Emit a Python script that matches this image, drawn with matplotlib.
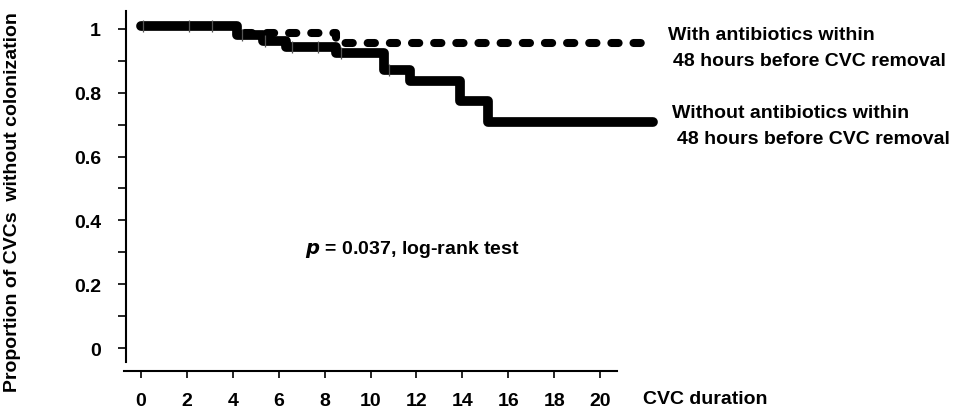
import matplotlib
matplotlib.use('Agg')
import matplotlib.pyplot as plt
import numpy as np

plt.rcParams['font.family'] = ['Liberation Sans', 'DejaVu Sans']
plt.rcParams['font.weight'] = 'bold'

# Kaplan-Meier steps (days, proportion)
with_abx_t = [0, 4.2, 8.5, 22.3]
with_abx_s = [1.01, 0.988, 0.955, 0.955]
without_abx_t = [0, 4.2, 5.3, 6.3, 8.5, 10.6, 11.7, 13.9, 15.1, 22.3]
without_abx_s = [1.01, 0.98, 0.963, 0.944, 0.925, 0.87, 0.837, 0.774, 0.708, 0.708]
# censoring ticks (days)
censor_t = [0.1, 2.1, 3.1, 4.4, 5.4, 6.6, 7.7, 8.7, 10.8]

x_ticks = list(range(0, 21, 2))
y_ticks = [0, 0.2, 0.4, 0.6, 0.8, 1]
y_tick_labels = ['0', '0.2', '0.4', '0.6', '0.8', '1']
y_minor = [0.1, 0.3, 0.5, 0.7, 0.9]

FS = 14
W, H = 975, 414
fig = plt.figure(figsize=(W / 100, H / 100), dpi=100)
ax = fig.add_axes([124 / W, 42 / H, (660 - 124) / W, 360 / H])
ax.set_xlim(-0.74, 22.61)
ax.set_ylim(-0.072, 1.056)

ax.step(without_abx_t, without_abx_s, where='post', color='black', lw=7,
        solid_capstyle='round', solid_joinstyle='round')
line, = ax.step(with_abx_t, with_abx_s, where='post', color='black', lw=5.8,
                dash_capstyle='round')
line.set_dashes((0.9, 1.85))

# censor marks on the solid curve, barely sticking out of the thick line
idx = np.searchsorted(without_abx_t, censor_t, side='right') - 1
censor_s = np.array(without_abx_s)[idx]
ax.plot(censor_t, censor_s, ls='none', marker='|', ms=9, mew=0.9, color='#555555')

for s in ['top', 'right']:
    ax.spines[s].set_visible(False)
ax.spines['left'].set_position(('data', -0.654))
ax.spines['left'].set_bounds(-0.044, 1.056)
ax.spines['bottom'].set_bounds(-0.74, 20.74)
ax.spines['left'].set_linewidth(1.5)
ax.spines['bottom'].set_linewidth(1.5)

ax.set_xticks(x_ticks)
ax.set_xticklabels([str(v) for v in x_ticks], fontsize=FS, fontweight='bold')
ax.set_yticks(y_ticks)
ax.set_yticklabels(y_tick_labels, fontsize=FS, fontweight='bold')
ax.set_yticks(y_minor, minor=True)
ax.tick_params(axis='y', which='both', direction='out', length=6, width=1.2, pad=12)
ax.tick_params(axis='x', direction='out', length=5, width=1.2, pad=10)

fig.text(13 / W, 1 - 202 / H, 'Proportion of CVCs  without colonization', rotation=90,
         ha='center', va='center', fontsize=FS, fontweight='bold')
fig.text(643 / W, 1 - 400 / H, 'CVC duration', ha='left', va='center',
         fontsize=FS, fontweight='bold')
fig.text(412 / W, 1 - 250 / H, r'$\mathbf{\it{p}}$' + ' = 0.037, log-rank test',
         ha='center', va='center', fontsize=FS, fontweight='bold')

fig.text(668 / W, 1 - 36 / H, 'With antibiotics within', ha='left', va='center',
         fontsize=FS, fontweight='bold')
fig.text(673 / W, 1 - 62 / H, '48 hours before CVC removal', ha='left', va='center',
         fontsize=FS, fontweight='bold')
fig.text(672 / W, 1 - 114 / H, 'Without antibiotics within', ha='left', va='center',
         fontsize=FS, fontweight='bold')
fig.text(677 / W, 1 - 140 / H, '48 hours before CVC removal', ha='left', va='center',
         fontsize=FS, fontweight='bold')

fig.savefig('out.png', dpi=100)
